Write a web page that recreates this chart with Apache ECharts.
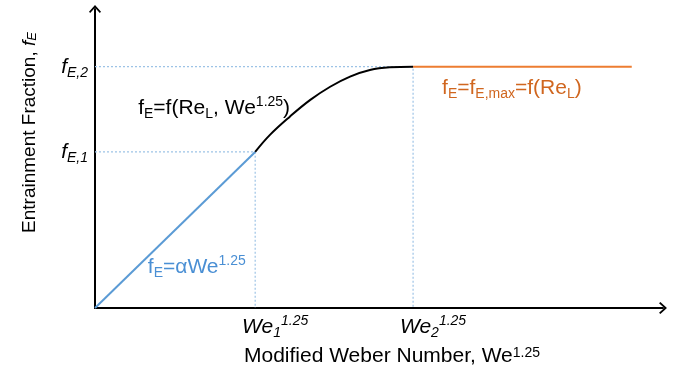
<!DOCTYPE html>
<html>
<head>
<meta charset="utf-8">
<script src="https://cdn.jsdelivr.net/npm/echarts@6/dist/echarts.min.js"></script>
<style>
  html, body { margin: 0; padding: 0; background: #fff; }
  #main { width: 676px; height: 373px; }
</style>
</head>
<body>
<div id="main"></div>
<script>
  // tick positions (schematic units, 0-100)
  var weTicks = [28.2, 56.0];
  var weTickNames = ['1', '2'];
  var fTicks = [52.2, 80.7];
  var fTickNames = ['E,1', 'E,2'];

  // linear part fE = aWe^1.25
  var linearX = [0, 28.2];
  var linearY = [0, 52.2];
  // transition curve fE = f(ReL, We^1.25)
  var curveX = [28.2, 30.8, 34.3, 37.9, 41.4, 44.9, 48.4, 51.9, 56.0];
  var curveY = [52.2, 57.9, 64.0, 69.6, 74.0, 77.4, 79.6, 80.5, 80.7];
  // plateau fE = fE,max
  var plateauX = [56.0, 94.5];
  var plateauY = [80.7, 80.7];

  var FONT = 'Liberation Sans, Arial, sans-serif';
  var arrowPath = 'path://M5,0 L10,5.5 L9,6.6 L5,2.2 L1,6.6 L0,5.5 Z';

  function pairs(xs, ys) {
    var out = [];
    for (var i = 0; i < xs.length; i++) {
      out.push([xs[i], ys[i]]);
    }
    return out;
  }

  //dotted guide lines from axes to the curve
  var guides = [];
  for (var i = 0; i < weTicks.length; i++) {
    guides.push({
      type: 'line',
      silent: true,
      symbol: 'none',
      animation: false,
      lineStyle: { color: '#9dc3e6', width: 1.2, type: [2, 2] },
      data: [[0, fTicks[i]], [weTicks[i], fTicks[i]], [weTicks[i], 0]],
      z: 1
    });
  }

  var chart = echarts.init(document.getElementById('main'));

  var option = {
    backgroundColor: '#fff',
    animation: false,
    grid: { left: 95, right: 13, top: 9, bottom: 65 },
    xAxis: {
      type: 'value',
      min: 0,
      max: 100,
      name: 'Modified Weber Number, We{sup|1.25}',
      nameLocation: 'middle',
      nameGap: 38,
      nameTextStyle: {
        fontFamily: FONT,
        fontSize: 21,
        color: '#000',
        padding: [0, 0, 0, 26],
        rich: {
          sup: { fontFamily: FONT, fontSize: 14, verticalAlign: 'top', color: '#000' }
        }
      },
      splitLine: { show: false },
      axisTick: { show: false },
      axisLine: {
        onZero: false,
        symbol: ['none', arrowPath],
        symbolSize: [12, 9],
        lineStyle: { color: '#000', width: 2 }
      },
      axisLabel: {
        customValues: weTicks,
        margin: 6,
        padding: [0, 0, 0, 40],
        formatter: function (v) {
          var k = weTicks.indexOf(v);
          return '{w|We}{s|' + weTickNames[k] + '}{p|1.25}';
        },
        rich: {
          w: { fontFamily: FONT, fontStyle: 'italic', fontSize: 21, color: '#000', lineHeight: 26 },
          s: { fontFamily: FONT, fontStyle: 'italic', fontSize: 14, color: '#000', verticalAlign: 'bottom' },
          p: { fontFamily: FONT, fontStyle: 'italic', fontSize: 14, color: '#000', verticalAlign: 'top' }
        }
      }
    },
    yAxis: {
      type: 'value',
      min: 0,
      max: 100,
      name: 'Entrainment Fraction, {f|f}{s|E}',
      nameLocation: 'middle',
      nameGap: 56,
      nameRotate: 90,
      nameTextStyle: {
        fontFamily: FONT,
        fontSize: 19,
        color: '#000',
        padding: [0, 0, 0, 52],
        rich: {
          f: { fontFamily: FONT, fontStyle: 'italic', fontSize: 19, color: '#000' },
          s: { fontFamily: FONT, fontStyle: 'italic', fontSize: 13, color: '#000', verticalAlign: 'bottom' }
        }
      },
      splitLine: { show: false },
      axisTick: { show: false },
      axisLine: {
        onZero: false,
        symbol: ['none', arrowPath],
        symbolSize: [12, 9],
        lineStyle: { color: '#000', width: 2 }
      },
      axisLabel: {
        customValues: fTicks,
        margin: 7,
        formatter: function (v) {
          var k = fTicks.indexOf(v);
          return '{f|f}{s|' + fTickNames[k] + '}';
        },
        rich: {
          f: { fontFamily: FONT, fontStyle: 'italic', fontSize: 21, color: '#000', lineHeight: 26 },
          s: { fontFamily: FONT, fontStyle: 'italic', fontSize: 14, color: '#000', verticalAlign: 'bottom' }
        }
      }
    },
    series: guides.concat([
      {
        type: 'line',
        silent: true,
        symbol: 'none',
        data: pairs(linearX, linearY),
        lineStyle: { color: '#5b9bd5', width: 2 },
        z: 3,
        markPoint: {
          silent: true,
          symbolSize: 0,
          data: [{ coord: [9.3, 13.7] }],
          label: {
            show: true,
            position: 'right',
            distance: 0,
            formatter: '{a|f}{b|E}{a|=\u03b1We}{c|1.25}',
            rich: {
              a: { fontFamily: FONT, fontSize: 21, color: '#4a8fd4', lineHeight: 26 },
              b: { fontFamily: FONT, fontSize: 14, color: '#4a8fd4', verticalAlign: 'bottom' },
              c: { fontFamily: FONT, fontSize: 14, color: '#4a8fd4', verticalAlign: 'top' }
            }
          }
        }
      },
      {
        type: 'line',
        silent: true,
        symbol: 'none',
        smooth: 0.4,
        data: pairs(curveX, curveY),
        lineStyle: { color: '#000', width: 2 },
        z: 4,
        markPoint: {
          silent: true,
          symbolSize: 0,
          data: [{ coord: [7.6, 66.9] }],
          label: {
            show: true,
            position: 'right',
            distance: 0,
            formatter: '{a|f}{b|E}{a|=f(Re}{b|L}{a|, We}{c|1.25}{a|)}',
            rich: {
              a: { fontFamily: FONT, fontSize: 21, color: '#000', lineHeight: 26 },
              b: { fontFamily: FONT, fontSize: 14, color: '#000', verticalAlign: 'bottom' },
              c: { fontFamily: FONT, fontSize: 14, color: '#000', verticalAlign: 'top' }
            }
          }
        }
      },
      {
        type: 'line',
        silent: true,
        symbol: 'none',
        data: pairs(plateauX, plateauY),
        lineStyle: { color: '#ed7d31', width: 2 },
        z: 3,
        markPoint: {
          silent: true,
          symbolSize: 0,
          data: [{ coord: [61.1, 73.6] }],
          label: {
            show: true,
            position: 'right',
            distance: 0,
            formatter: '{a|f}{b|E}{a|=f}{b|E,max}{a|=f(Re}{b|L}{a|)}',
            rich: {
              a: { fontFamily: FONT, fontSize: 21, color: '#d0661f', lineHeight: 26 },
              b: { fontFamily: FONT, fontSize: 14, color: '#d0661f', verticalAlign: 'bottom' }
            }
          }
        }
      }
    ])
  };

  chart.setOption(option);
</script>
</body>
</html>
